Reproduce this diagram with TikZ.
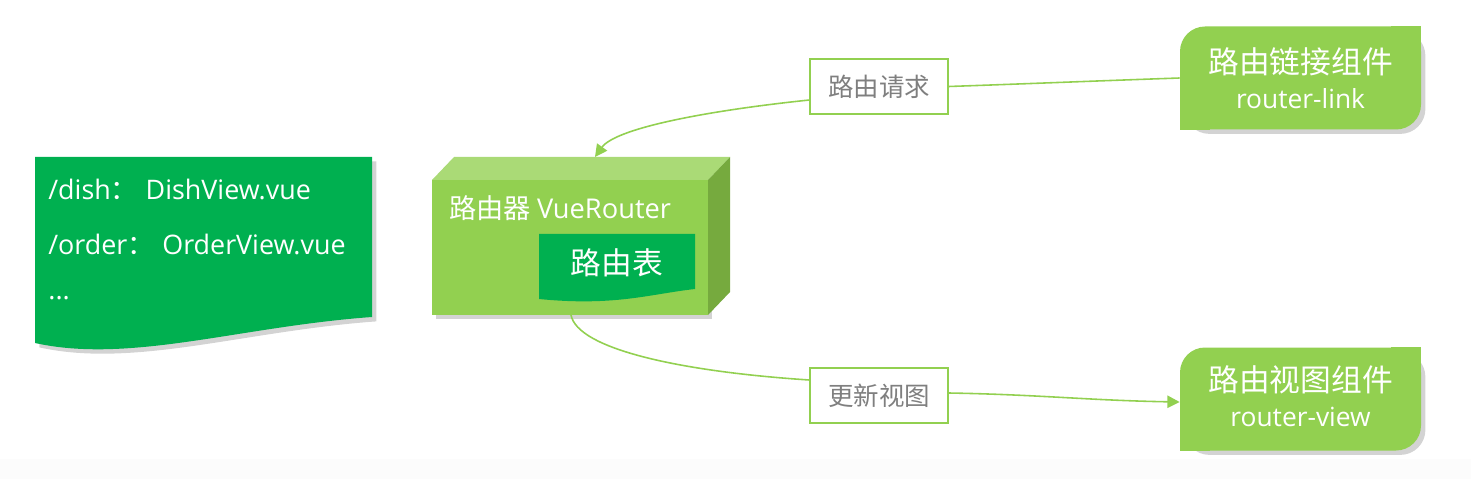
\documentclass[tikz,border=0pt]{standalone}
\usepackage{fontspec}
\setmainfont{Noto Sans CJK SC}
\newfontfamily\enfont{Open Sans}
\usepackage{tikz}
\usetikzlibrary{arrows.meta,positioning,calc,shadows}
\definecolor{clrLG}{RGB}{146,208,80}
\definecolor{clrDG}{RGB}{0,176,80}
\definecolor{clrTop}{RGB}{170,218,118}
\definecolor{clrSide}{RGB}{118,170,62}
\definecolor{clrTxt}{RGB}{127,127,127}
\definecolor{bgStrip}{RGB}{252,252,252}
\tikzset{
  shade/.style={drop shadow={shadow xshift=2.5pt,shadow yshift=-2.5pt,opacity=0.35}},
  compbox/.style={fill=clrLG,text=white,align=center,minimum width=4.82cm,
    minimum height=2.06cm,inner sep=0pt,
    rounded corners=0.5cm,font=\fontsize{17}{22}\selectfont},
  label/.style={draw=clrLG,fill=white,text=clrTxt,thick,minimum width=2.76cm,
    minimum height=1.1cm,inner sep=0pt,font=\fontsize{14.5}{16}\selectfont},
  routetext/.style={anchor=west,text=white,inner sep=0pt,font=\fontsize{15.3}{18}\selectfont},
  link/.style={draw=clrLG,line width=0.9pt},
  arrow/.style={link,-{Triangle[length=7pt,width=7pt]}}
}

\begin{document}
\begin{tikzpicture}[x=1cm,y=1cm]
\useasboundingbox (0,0) rectangle (29.42,9.58);
\fill[bgStrip] (0,0) rectangle (29.42,0.40);

% route list as a document shape
\fill[clrDG,shade] (0.70,6.44) -- (7.44,6.44) -- (7.44,3.24)
  .. controls (4.8,3.05) and (2.6,2.30) .. (0.70,2.72) -- cycle;
\node[routetext] (dish) at (0.96,5.80)
  {{\enfont /dish}：\hspace{0.16cm}{\enfont DishView.vue}};
\node[routetext] (order) at (0.96,4.70)
  {{\enfont /order}：\hspace{0.16cm}{\enfont OrderView.vue}};
\node[routetext] (more) at (0.96,3.62)
  {{\enfont ...}};

% router block drawn as a cube
\fill[clrLG,shade] (8.64,3.28) rectangle (14.16,5.98);
\fill[clrTop] (8.64,5.98) -- (9.08,6.44) -- (14.60,6.44) -- (14.16,5.98) -- cycle;
\fill[clrSide] (14.16,3.28) -- (14.60,3.74) -- (14.60,6.44) -- (14.16,5.98) -- cycle;
\node[anchor=west,text=white,font=\fontsize{15.5}{18}\selectfont] (router) at (8.86,5.42)
  {路由器 {\enfont VueRouter}};
\coordinate (routerTop) at (11.90,6.44);
\coordinate (routerBot) at (11.42,3.28);

% route table inside the router
\fill[clrDG] (10.78,4.90) -- (13.90,4.90) -- (13.90,3.80)
  .. controls (13.0,3.70) and (12.3,3.45) .. (10.78,3.60) -- cycle;
\node[text=white,font=\fontsize{17.5}{20}\selectfont] (table) at (12.34,4.32) {路由表};

% components
\node[compbox,shade] (link) at (26.01,8.02) {};
\fill[clrLG] (link.north east) rectangle ($(link.north east)+(-0.6,-0.6)$);
\fill[clrLG] (link.south west) rectangle ($(link.south west)+(0.6,0.6)$);
\node[text=white,font=\fontsize{17.5}{20}\selectfont] (linkcn) at (26.01,8.34) {路由链接组件};
\node[text=white,font=\fontsize{15}{18}\selectfont\enfont] (linken) at (26.01,7.60) {router-link};

\node[compbox,shade] (view) at (26.01,1.60) {};
\fill[clrLG] (view.north east) rectangle ($(view.north east)+(-0.6,-0.6)$);
\fill[clrLG] (view.south west) rectangle ($(view.south west)+(0.6,0.6)$);
\node[text=white,font=\fontsize{17.5}{20}\selectfont] (viewcn) at (26.01,1.98) {路由视图组件};
\node[text=white,font=\fontsize{15}{18}\selectfont\enfont] (viewen) at (26.01,1.24) {router-view};

% labels on the connectors
\node[label] (req) at (17.58,7.85) {路由请求};
\node[label] (upd) at (17.58,1.67) {更新视图};

\draw[link] (link.west) to[out=182,in=2] (req.east);
\draw[arrow] ($(req.west)+(0,-0.27)$) .. controls (14.0,7.35) and (12.3,7.0) .. (routerTop);
\draw[link] (routerBot) .. controls (11.55,2.6) and (13.6,2.15) .. ($(upd.west)+(0,0.31)$);
\draw[arrow] ($(upd.east)+(0,0.05)$) to[out=-1,in=179] ($(view.west)+(0,-0.06)$);
\end{tikzpicture}
\end{document}
